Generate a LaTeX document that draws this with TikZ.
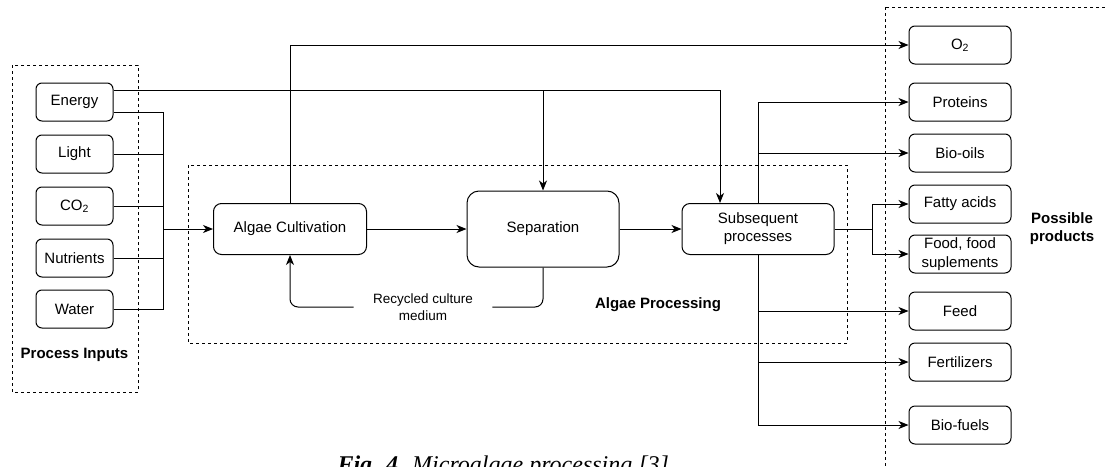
\documentclass[tikz,border=0pt]{standalone}
\usepackage{fontspec}
\setmainfont{Liberation Sans}
\newfontfamily\capfont{Liberation Serif}
\usetikzlibrary{arrows.meta,positioning}

\begin{document}
\begin{tikzpicture}[x=1pt,y=-1pt,line width=1pt,
  node distance=13pt,
  box/.style={draw,rounded corners=6pt,minimum width=77pt,minimum height=38pt,
    inner sep=2pt,align=center,font=\fontsize{15}{18}\selectfont},
  prod/.style={box,minimum width=102pt},
  proc/.style={box,minimum width=153pt,minimum height=51pt,rounded corners=8pt},
  group/.style={draw,line width=0.9pt,dash pattern=on 3pt off 3pt},
  lbl/.style={font=\fontsize{15}{18}\selectfont\bfseries,align=center},
  arr/.style={-{Stealth[length=10pt,width=8pt,inset=3pt]}}]

  \clip (0,0) rectangle (1105,466);
  \fill[white] (0,0) rectangle (1105,466);

  % groups
  \draw[group] (12,65) rectangle (138,392);
  \draw[group] (188,165) rectangle (847,343);
  \draw[group] (885,7) rectangle (1130,490);
  \node[lbl] (inlbl) at (74.5,355) {Process Inputs};
  \node[lbl] (proclbl) at (658,305) {Algae Processing};
  \node[lbl] (outlbl) at (1062,229) {Possible\\products};

  % inputs
  \node[box] (energy) at (74.5,102) {Energy};
  \node[box,below=of energy] (light) {Light};
  \node[box,below=of light] (co2) {CO\textsubscript{2}};
  \node[box,below=of co2] (nutr) {Nutrients};
  \node[box,below=12pt of nutr] (water) {Water};

  % processing
  \node[proc] (alg) at (290,229) {Algae Cultivation};
  \node[proc,minimum width=152pt,minimum height=76pt,rounded corners=12pt] (sep) at (543,229) {Separation};
  \node[proc,minimum width=152pt] (subs) at (758,229) {Subsequent\\processes};
  \node[align=center,inner xsep=19pt,font=\fontsize{13.5}{17}\selectfont] (recyc) at (423,307) {Recycled culture\\medium};

  % products
  \node[prod] (o2) at (960,45) {O\textsubscript{2}};
  \node[prod] (prot) at (960,102) {Proteins};
  \node[prod] (oils) at (960,153) {Bio-oils};
  \node[prod] (fatty) at (960,204) {Fatty acids};
  \node[prod,font=\fontsize{15}{19}\selectfont] (food) at (960,254) {Food, food\\suplements};
  \node[prod] (feed) at (960,311) {Feed};
  \node[prod] (fert) at (960,362) {Fertilizers};
  \node[prod] (fuels) at (960,425) {Bio-fuels};

  % input connectors
  \coordinate (bj) at (163,229);
  \coordinate (etop) at ([yshift=12pt]energy.east);
  \draw ([yshift=-10pt]energy.east) -| (bj);
  \draw (light.east) -- (light.east -| bj);
  \draw (co2.east) -- (co2.east -| bj);
  \draw (nutr.east) -- (nutr.east -| bj);
  \draw (water.east) -| (bj);
  \draw[arr] (bj) -- (alg);
  \draw[arr] (etop) -| ([xshift=-38pt]subs.north);
  \draw[arr] (etop -| sep.north) -- (sep.north);

  % processing connectors
  \draw[arr] (alg) -- (sep);
  \draw[arr] (sep) -- (subs);
  \draw[rounded corners=8pt] (sep.south) |- (recyc.east);
  \draw[arr,rounded corners=8pt] (recyc.west) -| (alg.south);
  \draw[arr] (alg.north) |- (o2);

  % output connectors
  \coordinate (sj) at (872,229);
  \draw[arr] (subs.north) |- (prot);
  \draw[arr] (subs.north |- oils) -- (oils);
  \draw (subs.east) -- (sj);
  \draw[arr] (sj) |- (fatty);
  \draw[arr] (sj) |- (food);
  \draw[arr] (subs.south) |- (fuels);
  \draw[arr] (subs.south |- feed) -- (feed);
  \draw[arr] (subs.south |- fert) -- (fert);

  % caption
  \node[anchor=base west,inner sep=0pt,font=\capfont\fontsize{24}{28}\selectfont] (cap) at (337,472)
    {\textbf{\textit{Fig. 4.}} \textit{Microalgae processing [3]}};
\end{tikzpicture}
\end{document}
